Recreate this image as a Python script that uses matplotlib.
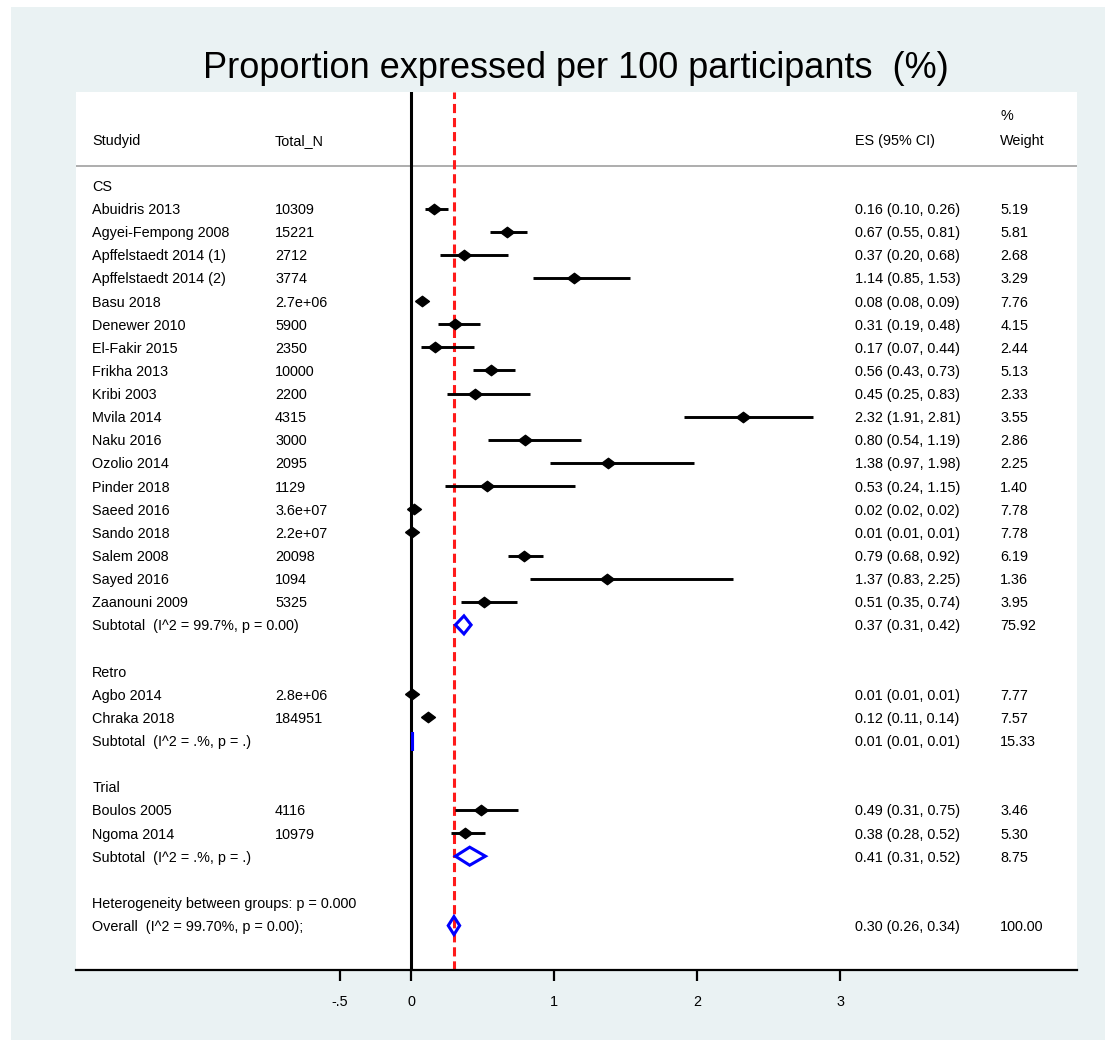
import numpy as np
import matplotlib
matplotlib.use("Agg")
import matplotlib.pyplot as plt
from matplotlib.patches import Rectangle, Polygon

plt.rcParams['font.family'] = ['Liberation Sans', 'DejaVu Sans']

# study rows per group
cs_names = ['Abuidris 2013', 'Agyei-Fempong 2008', 'Apffelstaedt 2014 (1)', 'Apffelstaedt 2014 (2)',
            'Basu 2018', 'Denewer 2010', 'El-Fakir 2015', 'Frikha 2013', 'Kribi 2003', 'Mvila 2014',
            'Naku 2016', 'Ozolio 2014', 'Pinder 2018', 'Saeed 2016', 'Sando 2018', 'Salem 2008',
            'Sayed 2016', 'Zaanouni 2009']
cs_n = ['10309', '15221', '2712', '3774', '2.7e+06', '5900', '2350', '10000', '2200', '4315',
        '3000', '2095', '1129', '3.6e+07', '2.2e+07', '20098', '1094', '5325']
cs_es = [0.16, 0.67, 0.37, 1.14, 0.08, 0.31, 0.17, 0.56, 0.45, 2.32, 0.80, 1.38, 0.53, 0.02, 0.01, 0.79, 1.37, 0.51]
cs_lo = [0.10, 0.55, 0.20, 0.85, 0.08, 0.19, 0.07, 0.43, 0.25, 1.91, 0.54, 0.97, 0.24, 0.02, 0.01, 0.68, 0.83, 0.35]
cs_hi = [0.26, 0.81, 0.68, 1.53, 0.09, 0.48, 0.44, 0.73, 0.83, 2.81, 1.19, 1.98, 1.15, 0.02, 0.01, 0.92, 2.25, 0.74]
cs_w = [5.19, 5.81, 2.68, 3.29, 7.76, 4.15, 2.44, 5.13, 2.33, 3.55, 2.86, 2.25, 1.40, 7.78, 7.78, 6.19, 1.36, 3.95]

retro_names = ['Agbo 2014', 'Chraka 2018']
retro_n = ['2.8e+06', '184951']
retro_es = [0.01, 0.12]
retro_lo = [0.01, 0.11]
retro_hi = [0.01, 0.14]
retro_w = [7.77, 7.57]

trial_names = ['Boulos 2005', 'Ngoma 2014']
trial_n = ['4116', '10979']
trial_es = [0.49, 0.38]
trial_lo = [0.31, 0.28]
trial_hi = [0.75, 0.52]
trial_w = [3.46, 5.30]

group_labels = ['CS', 'Retro', 'Trial']
sub_labels = ['Subtotal  (I^2 = 99.7%, p = 0.00)', 'Subtotal  (I^2 = .%, p = .)', 'Subtotal  (I^2 = .%, p = .)']
sub_es = [0.37, 0.01, 0.41]
sub_lo = [0.31, 0.01, 0.31]
sub_hi = [0.42, 0.01, 0.52]
sub_w = [75.92, 15.33, 8.75]

overall_es, overall_lo, overall_hi = 0.30, 0.26, 0.34
het_text = 'Heterogeneity between groups: p = 0.000'
overall_text = 'Overall  (I^2 = 99.70%, p = 0.00);'

groups = [
    (cs_names, cs_n, cs_es, cs_lo, cs_hi, cs_w),
    (retro_names, retro_n, retro_es, retro_lo, retro_hi, retro_w),
    (trial_names, trial_n, trial_es, trial_lo, trial_hi, trial_w),
]

fig = plt.figure(figsize=(11.17, 10.46), dpi=100)
fig.patch.set_facecolor('white')
# stata style graph region
fig.patches.append(Rectangle((11 / 1117, 1 - 1040 / 1046), 1094 / 1117, 1033 / 1046,
                             transform=fig.transFigure, facecolor='#eaf2f3', edgecolor='none', zorder=-5))

ax = fig.add_axes([76 / 1117, 1 - 970 / 1046, 1001 / 1117, 878 / 1046])
ax.set_zorder(1)
ax.set_facecolor('white')
ax.set_xlim(-2.343, 4.657)
ax.set_ylim(33.92, -4.04)
for s in ['top', 'right', 'left']:
    ax.spines[s].set_visible(False)
ax.spines['bottom'].set_linewidth(1.6)
ax.set_yticks([])
ax.set_xticks([-0.5, 0, 1, 2, 3])
ax.set_xticklabels(['-.5', '0', '1', '2', '3'])
ax.tick_params(axis='x', length=8, width=1.6, labelsize=10.4, pad=10)

fs = 10.4
va = 'center_baseline'
xc_name, xc_n, xc_es, xc_w = -2.23, -0.951, 3.105, 4.12

# header
ax.text(xc_name, -1.97, 'Studyid', fontsize=fs, va=va)
ax.text(xc_n, -1.97, 'Total_N', fontsize=fs, va=va)
ax.text(xc_es, -1.97, 'ES (95% CI)', fontsize=fs, va=va)
ax.text(xc_w, -1.97, 'Weight', fontsize=fs, va=va)
ax.text(xc_w, -3.05, '%', fontsize=fs, va=va)
ax.axhline(-0.84, color='#a0a0a0', lw=1.2)

# vertical null line and overall dashed line
ax.axvline(0, color='black', lw=2.2, zorder=3)
ax.axvline(overall_es, color='#ff1a1a', lw=2.2, ls=(0, (3.0, 1.6)), zorder=2)

dmark = [(-1, 0), (0, 0.75), (1, 0), (0, -0.75), (-1, 0)]

def diamond(x, lo, hi, y, h=0.39):
    p = Polygon([[lo, y], [x, y - h], [hi, y], [x, y + h]], closed=True, fill=False,
                edgecolor='blue', lw=2.2, zorder=5, joinstyle='miter')
    ax.add_patch(p)

row = 0
for g, (names, ns, es, lo, hi, w) in enumerate(groups):
    ax.text(xc_name, row, group_labels[g], fontsize=fs, va=va)
    row += 1
    for i in range(len(names)):
        ax.text(xc_name, row, names[i], fontsize=fs, va=va)
        ax.text(xc_n, row, ns[i], fontsize=fs, va=va)
        ax.text(xc_es, row, '%.2f (%.2f, %.2f)' % (es[i], lo[i], hi[i]), fontsize=fs, va=va)
        ax.text(xc_w, row, '%.2f' % w[i], fontsize=fs, va=va)
        ax.plot([lo[i], hi[i]], [row, row], color='black', lw=2.1, zorder=4, solid_capstyle='butt')
        ax.plot(es[i], row, marker=dmark, color='black', markersize=10, zorder=6)
        row += 1
    ax.text(xc_name, row, sub_labels[g], fontsize=fs, va=va)
    ax.text(xc_es, row, '%.2f (%.2f, %.2f)' % (sub_es[g], sub_lo[g], sub_hi[g]), fontsize=fs, va=va)
    ax.text(xc_w, row, '%.2f' % sub_w[g], fontsize=fs, va=va)
    diamond(sub_es[g], sub_lo[g], sub_hi[g], row)
    row += 2

ax.text(xc_name, row, het_text, fontsize=fs, va=va)
row += 1
ax.text(xc_name, row, overall_text, fontsize=fs, va=va)
ax.text(xc_es, row, '%.2f (%.2f, %.2f)' % (overall_es, overall_lo, overall_hi), fontsize=fs, va=va)
ax.text(xc_w, row, '100.00', fontsize=fs, va=va)
diamond(overall_es, overall_lo, overall_hi, row)

fig.text(576 / 1117, 1 - 68 / 1046, 'Proportion expressed per 100 participants  (%)',
         fontsize=26, ha='center', va='center')

fig.savefig('out.png', dpi=100, facecolor='white')
